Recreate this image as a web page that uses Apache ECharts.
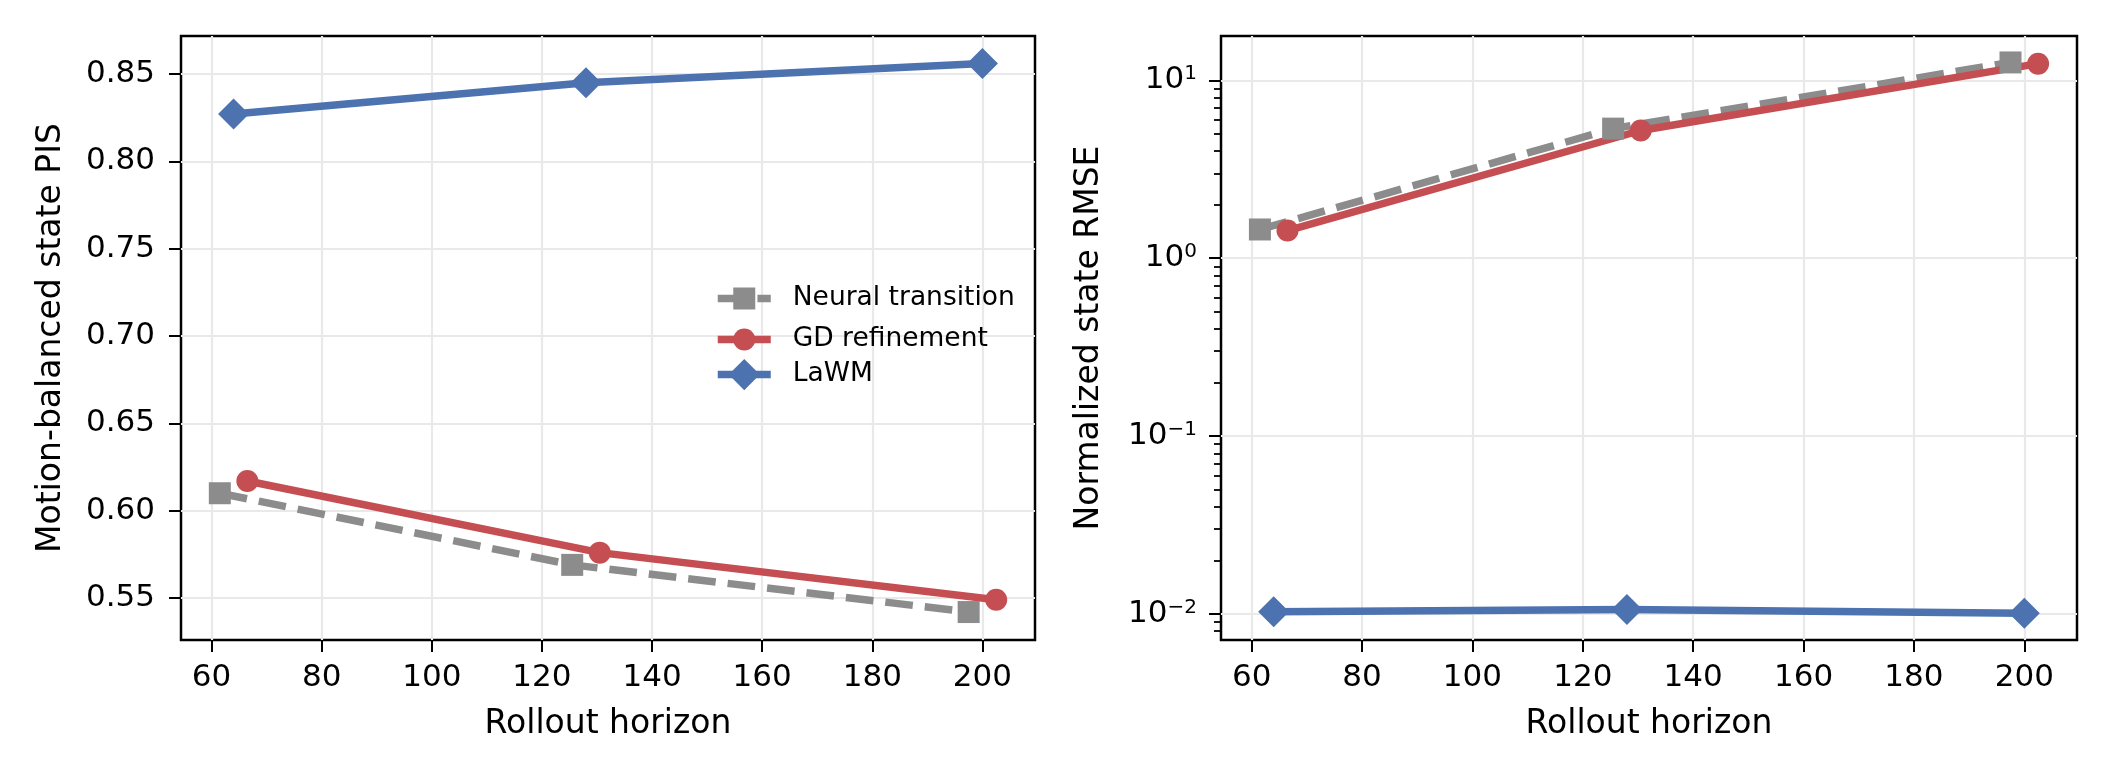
<!DOCTYPE html>
<html>
<head>
<meta charset="utf-8">
<script src="https://cdn.jsdelivr.net/npm/echarts@6/dist/echarts.min.js"></script>
<style>
  html, body { margin: 0; padding: 0; background: #fff; }
  #chart { width: 2112px; height: 780px; }
</style>
</head>
<body>
<div id="chart"></div>
<script>
// horizons are jittered per method so the markers do not sit on top of each other
const neuralX = [61.5, 125.5, 197.5];
const gdX = [66.5, 130.5, 202.5];
const lawmX = [64, 128, 200];

// left panel: motion-balanced state PIS
const neuralPIS = [0.610, 0.569, 0.542];
const gdPIS = [0.617, 0.576, 0.549];
const lawmPIS = [0.827, 0.845, 0.856];

// right panel: normalized state RMSE (log scale)
const neuralRMSE = [1.45, 5.35, 12.6];
const gdRMSE = [1.43, 5.22, 12.4];
const lawmRMSE = [0.0103, 0.0106, 0.0101];

const xTicks = [60, 80, 100, 120, 140, 160, 180, 200];
const pisTicks = [0.55, 0.60, 0.65, 0.70, 0.75, 0.80, 0.85];
const rmseExps = [-2, -1, 0, 1];
const rmseMinor = [0.008, 0.009,
  0.02, 0.03, 0.04, 0.05, 0.06, 0.07, 0.08, 0.09,
  0.2, 0.3, 0.4, 0.5, 0.6, 0.7, 0.8, 0.9,
  2, 3, 4, 5, 6, 7, 8, 9];

const FONT = 'DejaVu Sans';
const X_MIN = 54.45, X_MAX = 209.55;
const PIS_MIN = 0.526, PIS_MAX = 0.8717;
const RMSE_MIN = 0.00714, RMSE_MAX = 17.74;

const GRAY = '#8c8c8c', RED = '#c44e52', BLUE = '#4c72b0';
const DASH = [27.7, 12];
const GRID_LINE = { show: true, lineStyle: { color: '#e9e9e9', width: 2.2 } };
const TICK = { length: 12, lineStyle: { color: '#000', width: 2 } };
const LABEL = { fontFamily: FONT, fontSize: 31, color: '#000' };
const NAME = { fontFamily: FONT, fontSize: 33, color: '#000' };

function expLabel(v) {
  const e = Math.round(v);
  const s = e < 0 ? '\u2212' + Math.abs(e) : String(e);
  return '{m|10}{s|' + s + '}';
}

function xAxisFor(gridIndex) {
  return {
    type: 'value', gridIndex, min: X_MIN, max: X_MAX,
    name: 'Rollout horizon', nameLocation: 'middle', nameGap: 68,
    nameTextStyle: NAME,
    axisLine: { show: false, onZero: false },
    axisTick: Object.assign({ customValues: xTicks }, TICK),
    axisLabel: Object.assign({ customValues: xTicks, margin: 22 }, LABEL),
    splitLine: GRID_LINE
  };
}

const pairs = (xs, ys) => xs.map((x, i) => [x, ys[i]]);

function line(name, xs, ys, axis, color, symbol, size, dashed) {
  return {
    type: 'line', name,
    xAxisIndex: axis, yAxisIndex: axis === 0 ? 0 : 1,
    data: pairs(xs, ys),
    symbol, symbolSize: size,
    itemStyle: { color },
    lineStyle: { color, width: 7.5, type: dashed ? DASH : 'solid', cap: 'butt', join: 'round' },
    emphasis: { disabled: true },
    animation: false
  };
}

const chart = echarts.init(document.getElementById('chart'), null, { renderer: 'canvas' });

chart.setOption({
  backgroundColor: '#fff',
  animation: false,
  grid: [
    { left: 181, top: 36, width: 854, height: 604, show: true, borderColor: '#000', borderWidth: 2.5, backgroundColor: 'transparent' },
    { left: 1221, top: 36, width: 856, height: 604, show: true, borderColor: '#000', borderWidth: 2.5, backgroundColor: 'transparent' }
  ],
  // one legend per entry so each keeps its own marker size
  legend: [
    ['Neural transition', 285, 27.5, DASH],
    ['GD refinement', 326, 27.5, 'solid'],
    ['LaWM', 359, 39, 'solid']
  ].map(([name, top, h, type]) => ({
    data: [name], orient: 'vertical', left: 714, top, padding: 0,
    itemWidth: 53, itemHeight: h, selectedMode: false,
    lineStyle: { width: 7.5, type, cap: 'butt' },
    textStyle: { fontFamily: FONT, fontSize: 26.5, color: '#000', padding: [0, 0, 0, 17] }
  })),
  xAxis: [xAxisFor(0), xAxisFor(1)],
  yAxis: [
    {
      type: 'value', gridIndex: 0, min: PIS_MIN, max: PIS_MAX, position: 'left',
      name: 'Motion-balanced state PIS', nameLocation: 'middle', nameGap: 113,
      nameTextStyle: NAME,
      axisLine: { show: false, onZero: false },
      axisTick: Object.assign({ customValues: pisTicks }, TICK),
      axisLabel: Object.assign({ customValues: pisTicks, margin: 26, formatter: v => v.toFixed(2) }, LABEL),
      splitLine: GRID_LINE
    },
    {
      // data axis of the right panel
      type: 'log', logBase: 10, gridIndex: 1, min: RMSE_MIN, max: RMSE_MAX, position: 'left',
      show: false, axisLine: { onZero: false }, splitLine: { show: false }
    },
    {
      // decade ticks, labels and grid of the right panel (same range in log10 units)
      type: 'value', gridIndex: 1, min: Math.log10(RMSE_MIN), max: Math.log10(RMSE_MAX), position: 'left',
      name: 'Normalized state RMSE', nameLocation: 'middle', nameGap: 115,
      nameTextStyle: NAME,
      axisLine: { show: false, onZero: false },
      axisTick: Object.assign({ customValues: rmseExps }, TICK),
      axisLabel: Object.assign({
        customValues: rmseExps, margin: 24, formatter: expLabel,
        rich: {
          m: { fontFamily: FONT, fontSize: 31, lineHeight: 32, color: '#000' },
          s: { fontFamily: FONT, fontSize: 20, lineHeight: 20, verticalAlign: 'top', color: '#000' }
        }
      }, LABEL),
      splitLine: GRID_LINE
    },
    {
      // minor ticks
      type: 'value', gridIndex: 1, min: Math.log10(RMSE_MIN), max: Math.log10(RMSE_MAX), position: 'left',
      axisLine: { show: false, onZero: false },
      axisTick: { customValues: rmseMinor.map(Math.log10), length: 7, lineStyle: { color: '#000', width: 1.8 } },
      axisLabel: { show: false },
      splitLine: { show: false }
    }
  ],
  series: [
    line('Neural transition', neuralX, neuralPIS, 0, GRAY, 'rect', 22, true),
    line('GD refinement', gdX, gdPIS, 0, RED, 'circle', 22, false),
    line('LaWM', lawmX, lawmPIS, 0, BLUE, 'diamond', 31, false),
    line('Neural transition', neuralX, neuralRMSE, 1, GRAY, 'rect', 22, true),
    line('GD refinement', gdX, gdRMSE, 1, RED, 'circle', 22, false),
    line('LaWM', lawmX, lawmRMSE, 1, BLUE, 'diamond', 31, false)
  ]
});
</script>
</body>
</html>
